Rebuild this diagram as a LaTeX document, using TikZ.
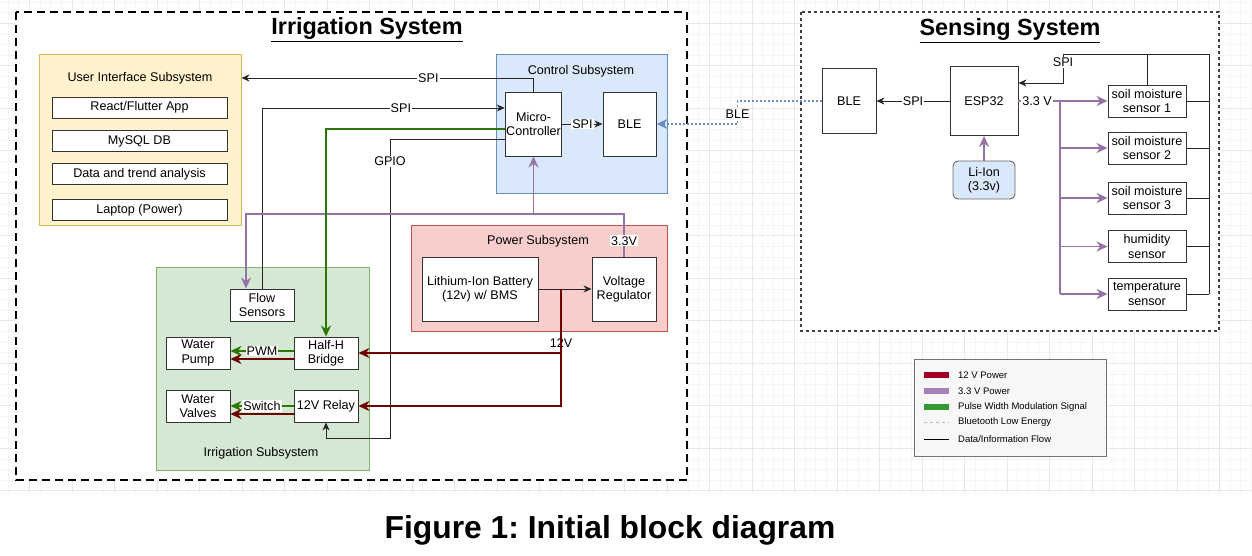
\documentclass[tikz,border=0pt]{standalone}
\usepackage{fontspec}
\setmainfont{Liberation Sans}
\usetikzlibrary{arrows.meta,positioning}
\frenchspacing

\definecolor{wirered}{HTML}{6F0000}
\definecolor{wirepurple}{HTML}{9673A6}
\definecolor{wiregreen}{HTML}{2D7600}
\definecolor{bleblue}{HTML}{6C8EBF}
\definecolor{uifill}{HTML}{FFF2CC}
\definecolor{uidraw}{HTML}{D6B656}
\definecolor{ctlfill}{HTML}{DAE8FC}
\definecolor{ctldraw}{HTML}{6C8EBF}
\definecolor{pwrfill}{HTML}{F8CECC}
\definecolor{pwrdraw}{HTML}{B85450}
\definecolor{irrfill}{HTML}{D5E8D4}
\definecolor{irrdraw}{HTML}{82B366}
\definecolor{legred}{HTML}{A20025}
\definecolor{legpurple}{HTML}{A680B8}
\definecolor{leggreen}{HTML}{339933}

\newcommand{\boxfont}{\fontsize{12.6}{14.5}\selectfont}
\newcommand{\legfont}{\fontsize{9.5}{11}\selectfont}

\begin{document}
\begin{tikzpicture}[x=1pt,y=-1pt,
    box/.style={draw=black!80, fill=white, line width=0.9pt, align=center, font=\boxfont, inner sep=1pt},
    grp/.style={line width=0.9pt, inner sep=0pt},
    grpname/.style={font=\boxfont, inner sep=1pt},
    lbl/.style={fill=white, inner sep=1pt, font=\boxfont},
    data/.style={draw=black!85, line width=0.9pt, -{Stealth[length=8pt,width=7pt,inset=2.5pt]}},
    dataline/.style={draw=black!85, line width=0.9pt},
    w12/.style={draw=wirered, line width=1.8pt, -{Stealth[length=11pt,width=10pt,inset=3.5pt]}},
    p33/.style={draw=wirepurple, line width=1.8pt, -{Stealth[length=11pt,width=10pt,inset=3.5pt]}},
    p33line/.style={draw=wirepurple, line width=1.8pt},
    pwm/.style={draw=wiregreen, line width=1.8pt, -{Stealth[length=11pt,width=10pt,inset=3.5pt]}},
    ble/.style={draw=bleblue, line width=1.8pt, dash pattern=on 2pt off 2pt, -{Stealth[length=11pt,width=10pt,inset=3.5pt]}},
    gridminor/.style={draw=black!4, line width=0.5pt},
    gridmajor/.style={draw=black!9, line width=0.6pt},
    ttl/.style={font=\bfseries\fontsize{23.4}{27}\selectfont, anchor=base, inner sep=0pt}
  ]
  \useasboundingbox (0,0) rectangle (1252,556);

  % background grid
  \foreach \i in {0,...,118}
    \draw[gridminor] ({-2.575+10.625*\i},0) -- ({-2.575+10.625*\i},493);
  \foreach \j in {0,...,46}
    \draw[gridminor] (0,{1.95+10.625*\j}) -- (1252,{1.95+10.625*\j});
  \foreach \i in {0,...,28}
    \draw[gridmajor] ({29.3+42.5*\i},0) -- ({29.3+42.5*\i},493);
  \foreach \j in {0,...,11}
    \draw[gridmajor] (0,{23.2+42.5*\j}) -- (1252,{23.2+42.5*\j});

  % the two systems
  \draw[fill=white, line width=2pt, dash pattern=on 8pt off 5pt] (16,12) rectangle (687,480);
  \draw[fill=white, draw=black!75, line width=1.2pt, dash pattern=on 3pt off 3pt] (801,12) rectangle (1219,331);
  \node[ttl] (irrtitle) at (367,34.5) {\underline{Irrigation System}};
  \node[ttl] (sentitle) at (1010,36) {\underline{Sensing System}};

  % subsystems
  \node[grp, draw=uidraw, fill=uifill, minimum width=202pt, minimum height=171pt] (uigrp) at (140,139.5) {};
  \node[grpname] (uiname) at (140,78) {User Interface Subsystem};
  \node[box, minimum width=175pt, minimum height=21pt] (app) at (139.5,107.5) {React/Flutter App};
  \node[box, minimum width=175pt, minimum height=21pt] (db) at (139.5,141) {MySQL DB};
  \node[box, minimum width=175pt, minimum height=21pt] (trend) at (139.5,174) {Data and trend analysis};
  \node[box, minimum width=175pt, minimum height=21pt] (laptop) at (139.5,210) {Laptop (Power)};

  \node[grp, draw=ctldraw, fill=ctlfill, minimum width=171pt, minimum height=139pt] (ctlgrp) at (581.5,123.5) {};
  \node[grpname] (ctlname) at (581,71) {Control Subsystem};
  \node[box, minimum width=53pt, minimum height=64pt] (micro) at (533.5,124) {Micro-\\Controller};
  \node[box, minimum width=53pt, minimum height=64pt] (cble) at (629.5,124) {BLE};

  \node[grp, draw=pwrdraw, fill=pwrfill, minimum width=256pt, minimum height=106pt] (pwrgrp) at (539,278) {};
  \node[grpname] (pwrname) at (538,241) {Power Subsystem};
  \node[box, minimum width=116pt, minimum height=64pt] (bat) at (480,289) {Lithium-Ion Battery\\(12v) w/ BMS};
  \node[box, minimum width=64pt, minimum height=64pt] (reg) at (624,289) {Voltage\\Regulator};

  \node[grp, draw=irrdraw, fill=irrfill, minimum width=213pt, minimum height=203pt] (irrgrp) at (262.5,368.5) {};
  \node[grpname] (irrname) at (261,453) {Irrigation Subsystem};
  \node[box, minimum width=64pt, minimum height=32pt] (flow) at (262,305) {Flow\\Sensors};
  \node[box, minimum width=64pt, minimum height=32pt] (pump) at (198,353) {Water\\Pump};
  \node[box, minimum width=64pt, minimum height=32pt] (hbridge) at (326,353) {Half-H\\Bridge};
  \node[box, minimum width=64pt, minimum height=32pt] (valves) at (198,406) {Water\\Valves};
  \node[box, minimum width=64pt, minimum height=32pt] (relay) at (326,406) {12V Relay};

  % sensing side
  \node[box, minimum width=54pt, minimum height=65pt] (sble) at (849,101) {BLE};
  \node[box, minimum width=68pt, minimum height=69pt] (esp) at (984,101) {ESP32};
  \node[box, rounded corners=5pt, fill=ctlfill, draw=black!60, minimum width=62pt, minimum height=38pt] (liion) at (984,180) {Li-Ion\\(3.3v)};
  \node[box, minimum width=78pt, minimum height=32pt] (s1) at (1147,101) {soil moisture\\sensor 1};
  \node[box, minimum width=78pt, minimum height=32pt] (s2) at (1147,148) {soil moisture\\sensor 2};
  \node[box, minimum width=78pt, minimum height=32pt] (s3) at (1147,198) {soil moisture\\sensor 3};
  \node[box, minimum width=78pt, minimum height=32pt] (hum) at (1147,246.5) {humidity\\sensor};
  \node[box, minimum width=78pt, minimum height=32pt] (temp) at (1147,294) {temperature\\sensor};

  % data lines
  \coordinate (spitop) at (533.5,78);
  \draw[data] (micro.north) -- (spitop) -- (spitop -| uigrp.east) node[lbl, pos=0.36] {SPI};
  \draw[data] (flow.north) |- ([yshift=16pt]micro.west) node[lbl, pos=0.786] {SPI};
  \coordinate (gpiobot) at (390,438);
  \draw[data] ([yshift=-15pt]micro.west) -| (gpiobot) node[lbl, pos=0.537] {GPIO} -| (relay.south);
  \draw[data] (micro.east) -- (cble.west) node[lbl, midway] {SPI};
  \draw[data] (bat.east) -- (reg.west);

  % power and pwm
  \coordinate (p33top) at (624,214);
  \draw[p33] (reg.north) -- (p33top) node[lbl, pos=0.37] {3.3V} -| ([xshift=-16pt]flow.north);
  \draw[p33] (p33top -| micro.south) -- (micro.south);
  \draw[pwm] ([yshift=-5pt]micro.west) -| (hbridge.north);
  \coordinate (j12) at (561,289);
  \draw[w12] (j12) |- (hbridge.east) node[lbl, pos=0.42] {12V};
  \draw[w12] (j12) |- (relay.east);
  \draw[pwm] ([yshift=2pt]hbridge.west) -- ([yshift=2pt]pump.east) node[lbl, midway] {PWM};
  \draw[w12] ([yshift=-6pt]hbridge.west) -- ([yshift=-6pt]pump.east);
  \draw[pwm] (relay.west) -- (valves.west -| valves.east) node[lbl, midway] {Switch};
  \draw[w12] ([yshift=-8pt]relay.west) -- ([yshift=-8pt]valves.east);

  % bluetooth link
  \draw[ble] (sble.west) -- ++(-84,0) |- (cble.east) node[lbl, pos=0.28] {BLE};

  % sensing wiring
  \draw[data] (esp.west) -- (sble.east) node[lbl, midway] {SPI};
  \draw[p33] (liion.north) -- (esp.south);
  \coordinate (c33) at (1060,101);
  \draw[p33line] (esp.east) -- (c33) node[lbl, pos=0.45] {3.3 V};
  \draw[p33line] (c33) -- (c33 |- temp.west);
  \foreach \s in {s1,s2,s3,hum,temp}
    \draw[p33] (c33 |- \s.west) -- (\s.west);
  \coordinate (bustop) at (1209,54);
  \coordinate (spicor) at (1063,54);
  \draw[dataline] (bustop |- temp.east) -- (bustop) -- (spicor);
  \draw[data] (spicor) |- ([yshift=18pt]esp.east) node[lbl, pos=0.14] {SPI};
  \draw[dataline] (s1.north) -- (s1.north |- bustop);
  \foreach \s in {s1,s2,s3,hum,temp}
    \draw[dataline] (\s.east) -- (\s.east -| bustop);

  % legend
  \node[draw=black!55, fill=black!3, line width=0.9pt, minimum width=192pt, minimum height=97pt, inner sep=0pt] (legend) at (1010,407.5) {};
  \foreach \y/\c/\t in {375/legred/12 V Power, 391/legpurple/3.3 V Power, 407/leggreen/Pulse Width Modulation Signal} {
    \draw[draw=\c, line width=6pt] (924,\y) -- (949,\y);
    \node[anchor=west, font=\legfont, inner sep=0pt] (leg\y) at (958,\y) {\t};
  }
  \draw[draw=bleblue!60, line width=0.8pt, dash pattern=on 3pt off 3pt] (924,422) -- (949,422);
  \node[anchor=west, font=\legfont, inner sep=0pt] (legble) at (958,422) {Bluetooth Low Energy};
  \draw[draw=black, line width=0.9pt] (924,439) -- (949,439);
  \node[anchor=west, font=\legfont, inner sep=0pt] (legdata) at (958,439) {Data/Information Flow};

  % caption
  \node[font=\bfseries\fontsize{31.8}{36}\selectfont, anchor=base, inner sep=0pt] (caption) at (610,538) {Figure 1: Initial block diagram};
\end{tikzpicture}
\end{document}
